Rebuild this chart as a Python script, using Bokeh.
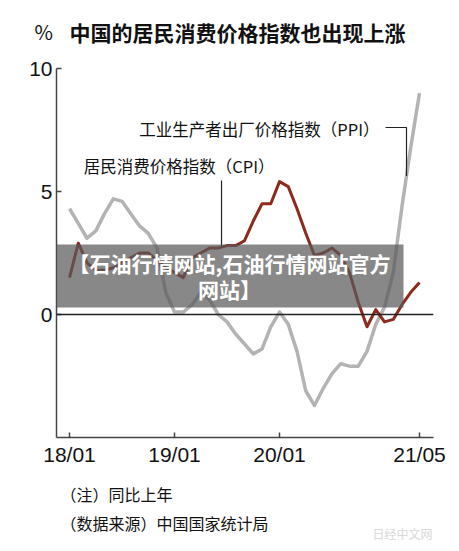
import numpy as np
from bokeh.plotting import figure
from bokeh.layouts import column
from bokeh.models import Label, Span, BoxAnnotation, FixedTicker, Range1d
from bokeh.embed import file_html
from bokeh.resources import INLINE

# ---- data (monthly, year-on-year %, 2018/01 .. 2021/05) ----
months = [f"{y:02d}/{m:02d}" for y in (18, 19, 20, 21) for m in range(1, 13)][:41]
cpi = [1.5, 2.9, 2.1, 1.8, 1.8, 1.9, 2.1, 2.3, 2.5, 2.5, 2.2, 1.9,
       1.7, 1.5, 2.3, 2.5, 2.7, 2.7, 2.8, 2.8, 3.0, 3.8, 4.5, 4.5,
       5.4, 5.2, 4.3, 3.3, 2.4, 2.5, 2.7, 2.4, 1.7, 0.5, -0.5, 0.2,
       -0.3, -0.2, 0.4, 0.9, 1.3]
ppi = [4.3, 3.7, 3.1, 3.4, 4.1, 4.7, 4.6, 4.1, 3.6, 3.3, 2.7, 0.9,
       0.1, 0.1, 0.4, 0.9, 0.6, 0.0, -0.3, -0.8, -1.2, -1.6, -1.4, -0.5,
       0.1, -0.4, -1.5, -3.1, -3.7, -3.0, -2.4, -2.0, -2.1, -2.1, -1.5, -0.4,
       0.3, 1.7, 4.4, 6.8, 9.0]
tick_labels = ["18/01", "19/01", "20/01", "21/05"]
y_ticks = [0, 5, 10]

title_text = "中国的居民消费价格指数也出现上涨"
unit_text = "%"
ppi_label = "工业生产者出厂价格指数（PPI）"
cpi_label = "居民消费价格指数（CPI）"
note1 = "（注）同比上年"
note2 = "（数据来源）中国国家统计局"
banner1 = "【石油行情网站,石油行情网站官方"
banner2 = "网站】"
watermark = "日经中文网"

x = np.arange(len(months))
tick_pos = [months.index(t) for t in tick_labels]

CJK = "Noto Sans CJK SC"
NUM = "Liberation Sans"
W = 451
HEAD_H = 50
FOOT_H = 70
MAIN_TOP = 18      # frame top inside main figure
MAIN_H = 423


def blank(h):
    f = figure(width=W, height=h, output_backend="svg", toolbar_location=None,
               x_range=Range1d(0, W), y_range=Range1d(0, h),
               x_axis_type=None, y_axis_type=None, frame_align=False,
               min_border=0, min_border_left=0, min_border_right=0,
               min_border_top=0, min_border_bottom=0)
    f.grid.visible = False
    f.outline_line_color = None
    return f


# ---- header ----
head = blank(HEAD_H)
head.add_layout(Label(x=34, y=HEAD_H - 31, text=unit_text, text_align="left",
                      text_baseline="middle", text_font=CJK, text_font_size="20px",
                      text_color="#111111"))
head.add_layout(Label(x=69, y=HEAD_H - 31, text=title_text, text_align="left",
                      text_baseline="middle", text_font=CJK, text_font_size="21px",
                      text_font_style="bold", text_color="#111111"))

# ---- main chart ----
p = figure(width=W, height=MAIN_H, output_backend="svg", toolbar_location=None,
           x_range=Range1d(-1.49, 41.6), y_range=Range1d(-5, 10), frame_align=False,
           min_border_left=56, min_border_right=W - 433, min_border_top=MAIN_TOP,
           min_border_bottom=MAIN_H - (437 - HEAD_H))
p.outline_line_color = None
p.grid.visible = False

for ax in (p.xaxis[0], p.yaxis[0]):
    ax.axis_line_color = "#444444"
    ax.axis_line_width = 1.5
    ax.major_tick_line_color = "#444444"
    ax.major_tick_line_width = 1.5
    ax.major_tick_in = 5
    ax.major_tick_out = 0
    ax.minor_tick_line_color = None
    ax.major_label_text_font = NUM
    ax.major_label_text_font_size = "21px"
    ax.major_label_text_color = "#111111"

p.xaxis.ticker = FixedTicker(ticks=tick_pos)
p.xaxis.major_label_overrides = {pos: lab for pos, lab in zip(tick_pos, tick_labels)}
p.xaxis.major_label_standoff = 5
p.yaxis.ticker = FixedTicker(ticks=y_ticks)
p.yaxis.major_label_standoff = 4

p.add_layout(Span(location=0, dimension="width", line_color="#222222", line_width=1.5))

p.line(x, ppi, line_color="#b3b3b3", line_width=3.5, line_join="round")
p.line(x, cpi, line_color="#8c2a1c", line_width=3, line_join="round")


# helpers: page px -> data
def dx(px):
    return (px - 69) / 8.75


def dy(py):
    return (314 - py) / 24.6


# leader lines
xp = dx(406)
p.line([dx(385), xp, xp], [dy(127), dy(127), float(np.interp(xp, x, ppi))],
       line_color="#222222", line_width=1.2)
xc = dx(221)
p.line([xc, xc], [dy(180), float(np.interp(xc, x, cpi))],
       line_color="#222222", line_width=1.2)

p.add_layout(Label(x=dx(379), y=dy(128), text=ppi_label, text_align="right",
                   text_baseline="middle", text_font=CJK, text_font_size="16.5px",
                   text_color="#111111"))
p.add_layout(Label(x=dx(274), y=dy(165), text=cpi_label, text_align="right",
                   text_baseline="middle", text_font=CJK, text_font_size="16.5px",
                   text_color="#111111"))

# overlay banner
p.add_layout(BoxAnnotation(left=dx(55), right=dx(403), top=dy(244), bottom=dy(307),
                           fill_color="#5a5a5a", fill_alpha=0.72, line_color=None,
                           level="overlay"))
p.add_layout(Label(x=dx(229), y=dy(262), text=banner1, text_align="center",
                   text_baseline="middle", text_font=CJK, text_font_size="21px",
                   text_font_style="bold", text_color="white", level="overlay"))
p.add_layout(Label(x=dx(229), y=dy(288), text=banner2, text_align="center",
                   text_baseline="middle", text_font=CJK, text_font_size="21px",
                   text_font_style="bold", text_color="white", level="overlay"))

# ---- footer ----
foot_top = HEAD_H + MAIN_H
foot = blank(FOOT_H)
foot.add_layout(Label(x=60, y=foot_top + FOOT_H - 493, text=note1, text_align="left",
                      text_baseline="middle", text_font=CJK, text_font_size="16px",
                      text_color="#111111"))
foot.add_layout(Label(x=60, y=foot_top + FOOT_H - 522, text=note2, text_align="left",
                      text_baseline="middle", text_font=CJK, text_font_size="16px",
                      text_color="#111111"))
foot.add_layout(Label(x=372, y=foot_top + FOOT_H - 533, text=watermark, text_align="left",
                      text_baseline="middle", text_font=CJK, text_font_size="12px",
                      text_color="#d8d8d8"))

layout = column(head, p, foot, spacing=0)
open("out.html", "w").write(file_html(layout, INLINE))
